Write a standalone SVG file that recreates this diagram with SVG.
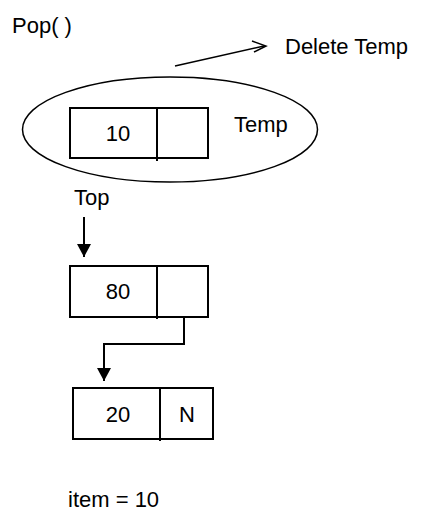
<svg xmlns="http://www.w3.org/2000/svg" width="430" height="513" viewBox="0 0 430 513">
<defs>
<style>
text{font-family:"Liberation Sans",Arial,sans-serif;font-size:22px;fill:#000}
.c{text-anchor:middle}
.s{fill:none;stroke:#000;stroke-width:2}
.l{fill:none;stroke:#000;stroke-width:1.5}
</style>
<marker id="fa" markerWidth="14" markerHeight="14" refX="13" refY="7" orient="auto" markerUnits="userSpaceOnUse" viewBox="0 0 14 14">
<path d="M0,0 L13,7 L0,14 Z" fill="#000"/>
</marker>
</defs>
<rect width="430" height="513" fill="#fff"/>
<g id="title"><text x="12" y="33">Pop( )</text></g>
<g id="delete-label"><text x="285" y="54">Delete Temp</text></g>
<g id="temp-group">
<ellipse cx="170" cy="129.5" rx="147.5" ry="52.5" class="l"/>
</g>
<g id="node-10">
<rect x="70" y="108" width="138" height="50" class="s"/>
<line x1="157" y1="108" x2="157" y2="161" class="s"/>
<text x="118" y="141" class="c">10</text>
</g>
<g id="temp-label"><text x="234" y="132">Temp</text></g>
<g id="top-label"><text x="74" y="205">Top</text></g>
<g id="node-80">
<rect x="70" y="266" width="138" height="51" class="s"/>
<line x1="157" y1="266" x2="157" y2="319" class="s"/>
<text x="118" y="299" class="c">80</text>
</g>
<g id="node-20">
<rect x="73" y="388" width="140" height="51" class="s"/>
<line x1="160" y1="388" x2="160" y2="441" class="s"/>
<text x="118" y="422" class="c">20</text>
<text x="187" y="422" class="c">N</text>
</g>
<g id="item-label"><text x="68" y="507">item = 10</text></g>
<g id="connectors">
<line x1="175" y1="66" x2="264" y2="46" class="l"/>
<polyline points="252,41 266,46 254,52" class="l"/>
<line x1="84" y1="217" x2="84" y2="257" class="s" marker-end="url(#fa)"/>
<polyline points="184,317 184,344 104,344 104,381" class="s" marker-end="url(#fa)"/>
</g>
</svg>
